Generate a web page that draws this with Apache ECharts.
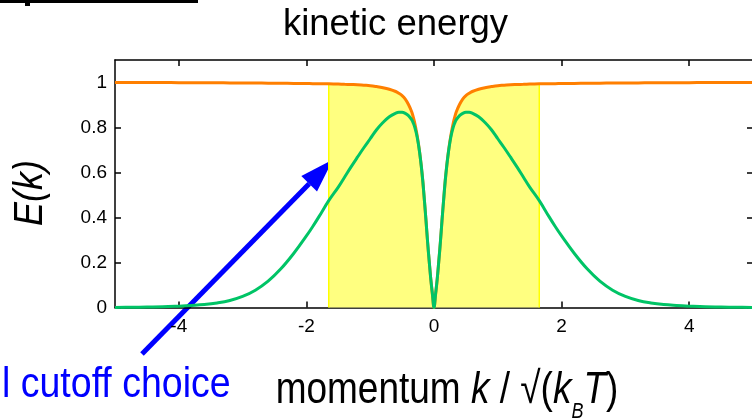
<!DOCTYPE html>
<html>
<head>
<meta charset="utf-8">
<script src="https://cdn.jsdelivr.net/npm/echarts@6/dist/echarts.min.js"></script>
<style>
  html, body { margin: 0; padding: 0; background: #fff; }
  #chart { width: 752px; height: 418px; }
</style>
</head>
<body>
<div id="chart"></div>
<script>
// momentum k / sqrt(kB T)
const momentum = [
  -5, -4.75, -4.5, -4.25, -4, -3.8, -3.6, -3.4, -3.2, -3, -2.8, -2.6, -2.4, -2.2, -2, -1.9, -1.8, -1.65,
  -1.5, -1.4, -1.3, -1.2, -1.1, -1, -0.9, -0.8, -0.7, -0.6, -0.55, -0.5, -0.45, -0.4, -0.35, -0.325,
  -0.3, -0.275, -0.25, -0.225, -0.2, -0.175, -0.15, -0.125, -0.1, -0.075, -0.05, -0.025,
  0,
  0.025, 0.05, 0.075, 0.1, 0.125, 0.15, 0.175, 0.2, 0.225, 0.25, 0.275, 0.3, 0.325, 0.35, 0.4, 0.45,
  0.5, 0.55, 0.6, 0.7, 0.8, 0.9, 1, 1.1, 1.2, 1.3, 1.4, 1.5, 1.65, 1.8, 1.9, 2, 2.2, 2.4, 2.6, 2.8,
  3, 3.2, 3.4, 3.6, 3.8, 4, 4.25, 4.5, 4.75, 5
];
// full kinetic energy E(k) (orange)
const energyFull = [
  1, 1, 1, 1, 0.999, 0.999, 0.999, 0.999, 0.998, 0.998, 0.998, 0.997, 0.997, 0.996, 0.996, 0.995, 0.995, 0.994,
  0.993, 0.992, 0.991, 0.99, 0.988, 0.986, 0.982, 0.977, 0.97, 0.96, 0.952, 0.942, 0.926, 0.902, 0.87, 0.846,
  0.818, 0.782, 0.74, 0.69, 0.63, 0.56, 0.475, 0.385, 0.29, 0.205, 0.125, 0.06,
  0,
  0.06, 0.125, 0.205, 0.29, 0.385, 0.475, 0.56, 0.63, 0.69, 0.74, 0.782, 0.818, 0.846, 0.87, 0.902, 0.926,
  0.942, 0.952, 0.96, 0.97, 0.977, 0.982, 0.986, 0.988, 0.99, 0.991, 0.992, 0.993, 0.994, 0.995, 0.995, 0.996, 0.996, 0.997, 0.997, 0.998,
  0.998, 0.998, 0.999, 0.999, 0.999, 0.999, 1, 1, 1, 1
];
// kinetic energy with smooth cutoff (green)
const energyCutoff = [
  0, 0.001, 0.002, 0.003, 0.006, 0.009, 0.013, 0.02, 0.031, 0.049, 0.077, 0.117, 0.172, 0.24, 0.318, 0.36, 0.405, 0.475,
  0.535, 0.58, 0.625, 0.668, 0.71, 0.75, 0.79, 0.822, 0.848, 0.864, 0.868, 0.868, 0.863, 0.853, 0.835, 0.82,
  0.8, 0.772, 0.735, 0.688, 0.63, 0.56, 0.475, 0.385, 0.29, 0.205, 0.125, 0.06,
  0,
  0.06, 0.125, 0.205, 0.29, 0.385, 0.475, 0.56, 0.63, 0.688, 0.735, 0.772, 0.8, 0.82, 0.835, 0.853, 0.863,
  0.868, 0.868, 0.864, 0.848, 0.822, 0.79, 0.75, 0.71, 0.668, 0.625, 0.58, 0.535, 0.475, 0.405, 0.36, 0.318, 0.24, 0.172, 0.117, 0.077,
  0.049, 0.031, 0.02, 0.013, 0.009, 0.006, 0.003, 0.002, 0.001, 0
];
// sharp cutoff window |k| <= kc
const cutoffK = 1.65;
const xTickValues = [-4, -2, 0, 2, 4];
const yTickValues = [0, 0.2, 0.4, 0.6, 0.8, 1];

const FONT = 'Liberation Sans, Arial, Helvetica, sans-serif';

const fullPairs = momentum.map((k, i) => [k, energyFull[i]]);
const cutoffPairs = momentum.map((k, i) => [k, energyCutoff[i]]);
const inside = fullPairs.filter(p => Math.abs(p[0]) <= cutoffK);
const bandPairs = [[-cutoffK, 0]].concat(inside, [[cutoffK, 0]]);

const axisLineStyle = { color: '#000', width: 1.5 };
const tickStyle = { color: '#000', width: 1.5 };

function xAxisDef(pos, labels) {
  return {
    type: 'value', min: -5, max: 5, position: pos,
    axisLine: { show: true, onZero: false, lineStyle: axisLineStyle },
    axisTick: { show: true, inside: true, length: 6, customValues: xTickValues, lineStyle: tickStyle },
    axisLabel: { show: labels, customValues: xTickValues, color: '#000', fontSize: 19, fontFamily: FONT, margin: 10 },
    splitLine: { show: false }
  };
}
function yAxisDef(pos, labels) {
  return {
    type: 'value', min: 0, max: 1.1, position: pos,
    axisLine: { show: true, onZero: false, lineStyle: axisLineStyle },
    axisTick: { show: true, inside: true, length: 6, customValues: yTickValues, lineStyle: tickStyle },
    axisLabel: { show: labels, customValues: yTickValues, color: '#000', fontSize: 19, fontFamily: FONT, margin: 8 },
    splitLine: { show: false }
  };
}

// blue arrow geometry (pixels)
const arrowTail = [142, 354], arrowTip = [333, 159.5];
const headLen = 34, headHalf = 11;
const dx = arrowTip[0] - arrowTail[0], dy = arrowTip[1] - arrowTail[1];
const len = Math.hypot(dx, dy), ux = dx / len, uy = dy / len;
const baseC = [arrowTip[0] - headLen * ux, arrowTip[1] - headLen * uy];
const nx = -uy, ny = ux;

const chart = echarts.init(document.getElementById('chart'), null, { renderer: 'canvas' });
chart.setOption({
  animation: false,
  backgroundColor: '#fff',
  grid: { left: 115, right: -1, top: 60, bottom: 110.5, containLabel: false, outerBoundsMode: 'none' },
  xAxis: [xAxisDef('bottom', true), xAxisDef('top', false)],
  yAxis: [yAxisDef('left', true), yAxisDef('right', false)],
  series: [
    {
      name: 'cutoff window', type: 'line', data: bandPairs, symbol: 'none', silent: true, z: 1,
      lineStyle: { color: '#ffff00', width: 1.5 },
      areaStyle: { color: '#ffff80', opacity: 1 }
    },
    {
      name: 'E(k)', type: 'line', data: fullPairs, symbol: 'none', smooth: 0.4, z: 2,
      lineStyle: { color: '#ff7f00', width: 3 }
    },
    {
      name: 'E(k) cutoff', type: 'line', data: cutoffPairs, symbol: 'none', smooth: 0.4, z: 3,
      lineStyle: { color: '#00c466', width: 3 }
    }
  ],
  graphic: [
    { type: 'rect', shape: { x: 0, y: 0, width: 198, height: 3 }, style: { fill: '#000' } },
    { type: 'rect', shape: { x: 25, y: 3, width: 5, height: 3 }, style: { fill: '#000' } },
    {
      type: 'text', x: 395.5, y: 25,
      style: { text: 'kinetic energy', fontSize: 36.5, fontFamily: FONT, fill: '#000', align: 'center', verticalAlign: 'middle' }
    },
    {
      type: 'text', x: 30, y: 193, rotation: Math.PI / 2, scaleY: 1.15,
      style: { text: 'E(k)', fontSize: 36, fontStyle: 'italic', fontFamily: FONT, fill: '#000', align: 'center', verticalAlign: 'middle' }
    },
    {
      type: 'text', x: 447, y: 391, scaleY: 1.2,
      style: {
        text: '{n|momentum }{i|k}{n| / √(}{i|k}{s|B}{i|T}{n|)}',
        fill: '#000', align: 'center', verticalAlign: 'middle',
        rich: {
          n: { fontSize: 37, fontFamily: FONT, lineHeight: 53 },
          i: { fontSize: 37, fontFamily: FONT, fontStyle: 'italic', lineHeight: 53 },
          s: { fontSize: 18, fontFamily: FONT, fontStyle: 'italic', lineHeight: 16, verticalAlign: 'bottom' }
        }
      }
    },
    {
      type: 'text', x: 2, y: 385, scaleY: 1.15,
      style: { text: 'l cutoff choice', fontSize: 37.5, fontFamily: FONT, fill: '#0000ff', align: 'left', verticalAlign: 'middle' }
    },
    {
      type: 'line', shape: { x1: arrowTail[0], y1: arrowTail[1], x2: baseC[0], y2: baseC[1] },
      style: { stroke: '#0000ff', lineWidth: 5 }
    },
    {
      type: 'polygon',
      shape: { points: [arrowTip, [baseC[0] + headHalf * nx, baseC[1] + headHalf * ny], [baseC[0] - headHalf * nx, baseC[1] - headHalf * ny]] },
      style: { fill: '#0000ff' }
    }
  ]
});
</script>
</body>
</html>
